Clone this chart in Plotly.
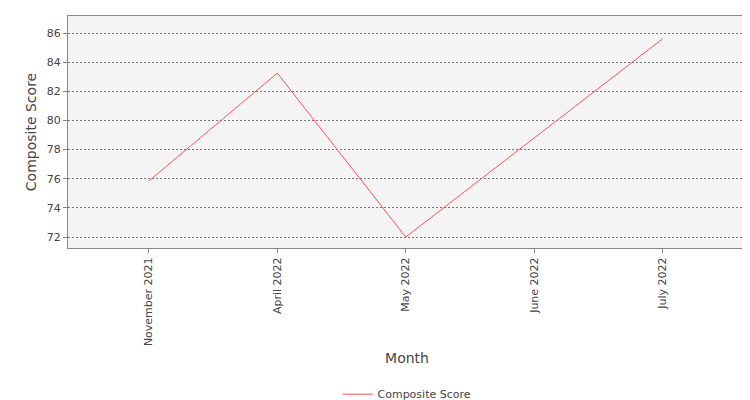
import plotly.graph_objects as go

months = ['November 2021', 'April 2022', 'May 2022', 'June 2022', 'July 2022']
composite_score = [75.85, 83.25, 72.0, 78.8, 85.6]

fig = go.Figure()
fig.add_trace(go.Scatter(
    x=months,
    y=composite_score,
    mode='lines',
    name='Composite Score',
    line=dict(color='#ff5555', width=1),
))

fig.update_layout(
    width=750,
    height=400,
    paper_bgcolor='white',
    plot_bgcolor='#f4f4f4',
    font=dict(family='DejaVu Sans, sans-serif', size=11, color='#444444'),
    margin=dict(l=60, r=12, t=8, b=160, autoexpand=False),
    showlegend=True,
    legend=dict(
        orientation='h',
        xanchor='center',
        x=0.5,
        yanchor='middle',
        y=-0.63,
        font=dict(size=11, color='#444444'),
    ),
    xaxis=dict(
        title=dict(text='Month', font=dict(size=14), standoff=8),
        range=[-0.63, 4.65],
        tickangle=-90,
        ticks='outside',
        ticklen=4,
        tickcolor='#888888',
        showgrid=False,
        showline=True,
        linecolor='#888888',
        mirror=True,
        zeroline=False,
        automargin=False,
    ),
    yaxis=dict(
        title=dict(text='Composite Score', font=dict(size=14), standoff=6),
        range=[71.25, 87.17],
        dtick=2,
        ticks='outside',
        ticklen=4,
        tickcolor='#888888',
        showgrid=True,
        gridcolor='#777777',
        griddash='2px,2px',
        gridwidth=0.6,
        showline=True,
        linecolor='#888888',
        mirror=True,
        zeroline=False,
        automargin=False,
    ),
)

fig.write_html('out.html')
